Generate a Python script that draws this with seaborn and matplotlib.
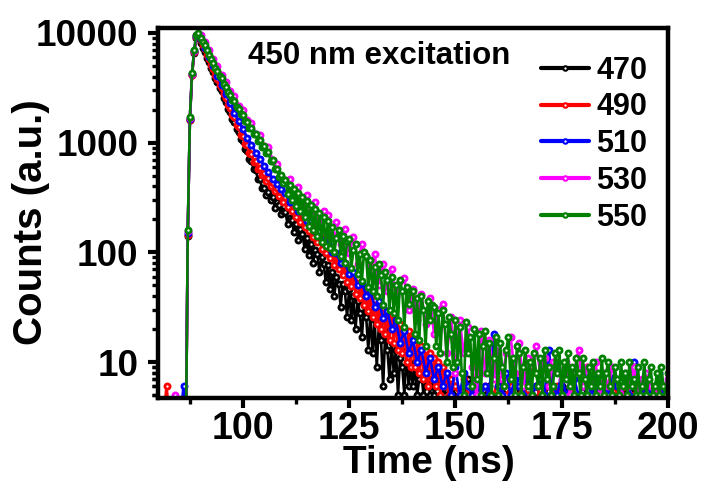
import numpy as np
import pandas as pd
import matplotlib
matplotlib.use("Agg")
import matplotlib.pyplot as plt
from matplotlib.lines import Line2D
from matplotlib.ticker import FixedLocator, MultipleLocator, NullFormatter
import seaborn as sns

# ---------------- data ----------------
series_names = ["470", "490", "510", "530", "550"]
series_colors = ["#000000", "#ff0000", "#0000ff", "#ff00ff", "#008000"]

# rising edge (shared channel times, ns)
rise_times = [80, 82, 84, 86, 86.5, 87, 87.5, 88, 88.5, 89, 89.5]
black_rise = [1, 1, 1, 1, 1, 140, 1600, 4100, 6600, 9000, 9300]
red_rise = [1, 6, 1, 1, 1, 145, 1620, 4150, 6700, 9100, 9500]
blue_rise = [1, 1, 1, 6, 1, 150, 1650, 4200, 6800, 9300, 9700]
magenta_rise = [1, 1, 5, 1, 1, 155, 1680, 4250, 6900, 9500, 9850]
green_rise = [1, 1, 1, 1, 1, 160, 1700, 4300, 7000, 9600, 9900]

# decay channel times (ns)
fine_times = list(np.arange(90, 200.5, 0.5))                               # 90 .. 200 every 0.5
mixed_times = list(np.arange(90, 150, 0.5)) + list(np.arange(150, 201, 1))  # 0.5 then 1
coarse_times = list(np.arange(90, 201, 1))                                 # 90 .. 200 every 1

black_decay = [
    8150, 7250, 6640, 5920, 5440, 4820, 4430, 3910, 3580, 3170,
    2940, 2540, 2330, 2030, 1890, 1650, 1540, 1330, 1250, 1080,
    1030, 870, 835, 705, 680, 575, 560, 470, 462, 385,
    390, 332, 352, 298, 322, 254, 290, 270, 222, 240,
    232, 180, 206, 198, 152, 180, 130, 162, 148, 108,
    136, 94, 120, 80, 104, 96, 66, 90, 78, 54,
    76, 46, 66, 40, 60, 52, 32, 52, 44, 26,
    46, 24, 40, 20, 36, 28, 17, 33, 26, 13,
    28, 12, 24, 9, 22, 16, 6, 19, 13, 7,
    15, 8, 13, 5, 11, 9, 5, 13, 6, 9,
    6, 10, 5, 7, 8, 5, 6, 9, 5, 7,
    5, 6, 8, 5, 6, 5, 7, 5, 6, 5,
    6, 5, 5, 7, 5, 6, 5, 5, 6, 5,
    5, 6, 5, 5, 7, 5, 6, 5, 5, 6,
    5, 5, 6, 5, 5, 6, 5, 7, 5, 5,
    6, 5, 5, 6, 5, 5, 6, 5, 5, 6,
    5, 7, 5, 5, 6, 5, 5, 6, 5, 5,
    6]

red_decay = [
    8560, 7700, 7130, 6330, 5790, 5140, 4720, 4180, 3840, 3390,
    3130, 2760, 2540, 2220, 2080, 1800, 1700, 1460, 1390, 1180,
    1140, 970, 950, 800, 790, 670, 680, 575, 590, 505,
    530, 450, 475, 400, 430, 360, 390, 325, 358, 290,
    320, 260, 292, 236, 262, 210, 242, 190, 222, 170,
    198, 158, 180, 138, 162, 124, 150, 108, 134, 98,
    120, 88, 106, 76, 96, 70, 88, 62, 80, 54,
    72, 49, 64, 42, 58, 38, 52, 33, 47, 29,
    42, 26, 37, 22, 34, 20, 31, 18, 29, 16,
    27, 15, 24, 13, 22, 12, 20, 10, 19, 9,
    17, 9, 16, 8, 14, 7, 13, 6, 12, 7,
    11, 6, 10, 5, 9, 6, 8, 5, 7, 6,
    6, 5, 7, 5, 6, 5, 5, 6, 5, 5,
    7, 5, 5, 6, 5, 5, 6, 5, 5, 6,
    5, 5, 7, 5, 6, 5, 5, 6, 5, 5,
    6, 9, 5, 5, 6, 5, 5, 7, 5, 5,
    6, 5, 5, 6, 5, 7, 5, 5, 6, 5,
    6]

blue_decay = [
    8800, 7300, 6000, 4950, 4050, 3350, 2750, 2280, 1880, 1560,
    1330, 1110, 960, 810, 710, 615, 540, 470, 420, 375,
    345, 290, 290, 240, 236, 194, 192, 156, 155, 127,
    120, 100, 98, 80, 80, 64, 66, 50, 53, 40,
    44, 32, 36, 25, 29, 20, 24, 15, 19, 12,
    16, 10, 13, 8, 11, 7, 9, 6, 8, 5,
    9, 5, 8, 6, 5, 7, 5, 6, 5, 18,
    6, 5, 8, 5, 7, 6, 5, 8, 5, 6,
    7, 5, 13, 6, 5, 8, 5, 6, 7, 5,
    6, 8, 5, 7, 5, 6, 5, 8, 6, 5,
    7, 5, 10, 6, 5, 7, 5, 6, 8, 5,
    6]

magenta_decay = [
    9650, 8250, 7000, 5760, 4990, 4110, 3540, 2960, 2640, 2180,
    1990, 1600, 1520, 1210, 1180, 940, 905, 690, 645, 490,
    460, 470, 340, 392, 290, 330, 240, 285, 196, 238,
    220, 148, 190, 118, 162, 98, 138, 78, 120, 92,
    62, 96, 50, 78, 44, 70, 40, 55, 58, 30,
    46, 24, 42, 22, 38, 18, 30, 34, 12, 26,
    8, 24, 12, 21, 9, 5, 19, 8, 16, 7,
    14, 7, 12, 17, 8, 15, 6, 11, 9, 14,
    8, 11, 6, 10, 9, 7, 10, 5, 8, 13,
    6, 9, 7, 10, 5, 8, 6, 9, 7, 5,
    8, 6, 9, 5, 7, 8, 6, 5, 7, 6,
    7]

green_decay = [
    8980, 8220, 7760, 6930, 6360, 5740, 5350, 4820, 4510, 4070,
    3850, 3410, 3200, 2870, 2740, 2460, 2380, 2120, 2040, 1830,
    1780, 1580, 1550, 1370, 1360, 1190, 1190, 1040, 1060, 920,
    940, 800, 820, 680, 695, 570, 580, 482, 505, 425,
    460, 340, 412, 300, 378, 262, 350, 240, 320, 210,
    292, 175, 268, 160, 246, 140, 228, 125, 210, 115,
    194, 110, 172, 100, 136, 160, 92, 140, 80, 128,
    132, 72, 104, 118, 64, 96, 55, 100, 92, 48,
    86, 44, 74, 40, 78, 62, 33, 66, 56, 30,
    60, 28, 50, 24, 56, 44, 21, 48, 34, 44,
    44, 18, 38, 16, 40, 30, 14, 36, 24, 33,
    32, 14, 28, 12, 30, 22, 10, 26, 18, 9,
    24, 10, 21, 8, 5, 23, 12, 17, 6, 20,
    7, 18, 5, 14, 19, 8, 15, 5, 11, 17,
    5, 15, 9, 6, 13, 17, 7, 11, 5, 14,
    12, 5, 9, 13, 6, 10, 5, 12, 8, 6,
    11, 5, 13, 7, 9, 5, 6, 12, 8, 13,
    5, 10, 7, 12, 6, 9, 5, 11, 8, 5,
    11, 7, 5, 9, 6, 10, 5, 8, 6, 11,
    5, 8, 10, 6, 5, 9, 7, 5, 10, 6,
    8, 5, 10, 6, 7, 5, 9, 5, 6, 10,
    5, 7, 9, 5, 6, 8, 5, 9, 6, 5,
    8]

x_ticks = [100, 125, 150, 175, 200]
y_ticks = [10, 100, 1000, 10000]
y_tick_labels = ["10", "100", "1000", "10000"]

# ---------------- build long table ----------------
series_data = {
    "470": (rise_times + mixed_times, black_rise + black_decay),
    "490": (rise_times + mixed_times, red_rise + red_decay),
    "510": (rise_times + coarse_times, blue_rise + blue_decay),
    "530": (rise_times + coarse_times, magenta_rise + magenta_decay),
    "550": (rise_times + fine_times, green_rise + green_decay),
}
frames = []
for name in series_names:
    t, v = series_data[name]
    frames.append(pd.DataFrame({"Time": t, "Counts": v, "Series": name}))
df = pd.concat(frames, ignore_index=True)

# ---------------- styling ----------------
sns.set_style("ticks")
plt.rcParams["font.family"] = ["Liberation Sans", "DejaVu Sans"]
plt.rcParams["font.weight"] = "bold"
plt.rcParams["text.color"] = "black"
plt.rcParams["axes.labelcolor"] = "black"
plt.rcParams["xtick.color"] = "black"
plt.rcParams["ytick.color"] = "black"

fig = plt.figure(figsize=(7.03, 4.86), dpi=100)
ax = fig.add_axes([0.2248, 0.181, 0.725, 0.7614])

palette = dict(zip(series_names, series_colors))
sns.lineplot(data=df, x="Time", y="Counts", hue="Series", hue_order=series_names,
             palette=palette, estimator=None, sort=False, ax=ax, legend=False,
             marker="o", markersize=3.7, markerfacecolor="white",
             markeredgewidth=2.0, linewidth=1.9)
for line in ax.get_lines():
    line.set_markeredgecolor(line.get_color())

ax.set_yscale("log")
ax.set_xlim(80, 200)
ax.set_ylim(4.7, 11100)

ax.yaxis.set_major_locator(FixedLocator(y_ticks))
ax.set_yticklabels(y_tick_labels)
ax.yaxis.set_minor_locator(FixedLocator(
    [v * d for d in [1, 10, 100, 1000] for v in range(2, 10)] + [5, 6, 7, 8, 9]))
ax.yaxis.set_minor_formatter(NullFormatter())
ax.xaxis.set_major_locator(FixedLocator(x_ticks))
ax.xaxis.set_minor_locator(MultipleLocator(12.5))

for side in ["left", "bottom", "right", "top"]:
    ax.spines[side].set_linewidth(3.2)
    ax.spines[side].set_color("black")

ax.tick_params(axis="both", which="major", direction="out", length=7, width=3,
               top=False, right=False, colors="black")
ax.tick_params(axis="both", which="minor", direction="out", length=4.5, width=2.4,
               top=False, right=False, colors="black")
ax.tick_params(axis="x", which="major", labelsize=27, pad=2)
ax.tick_params(axis="y", which="major", labelsize=26.5, pad=7)
for lab in ax.get_xticklabels() + ax.get_yticklabels():
    lab.set_fontweight("bold")
    lab.set_color("black")

ax.set_xlabel("Time (ns)", fontsize=28, fontweight="bold", color="black")
ax.xaxis.set_label_coords(0.531, -0.127)
ax.set_ylabel("Counts (a.u.)", fontsize=29, fontweight="bold", color="black")
ax.yaxis.set_label_coords(-0.212, 0.475)

ax.text(0.433, 0.925, "450 nm excitation", transform=ax.transAxes, ha="center",
        va="center", fontsize=22.5, fontweight="bold", color="black")

handles = [Line2D([0], [0], color=c, linewidth=3, marker="o", markersize=3.2,
                  markerfacecolor="white", markeredgecolor=c, markeredgewidth=1.5)
           for c in series_colors]
leg = ax.legend(handles, series_names, loc="upper right",
                bbox_to_anchor=(0.96, 0.925), frameon=False, fontsize=22,
                handlelength=1.55, handletextpad=0.25, labelspacing=0.22,
                borderpad=0, borderaxespad=0, numpoints=1)
for t in leg.get_texts():
    t.set_fontweight("bold")
    t.set_color("black")

fig.savefig("out.png", dpi=100)
